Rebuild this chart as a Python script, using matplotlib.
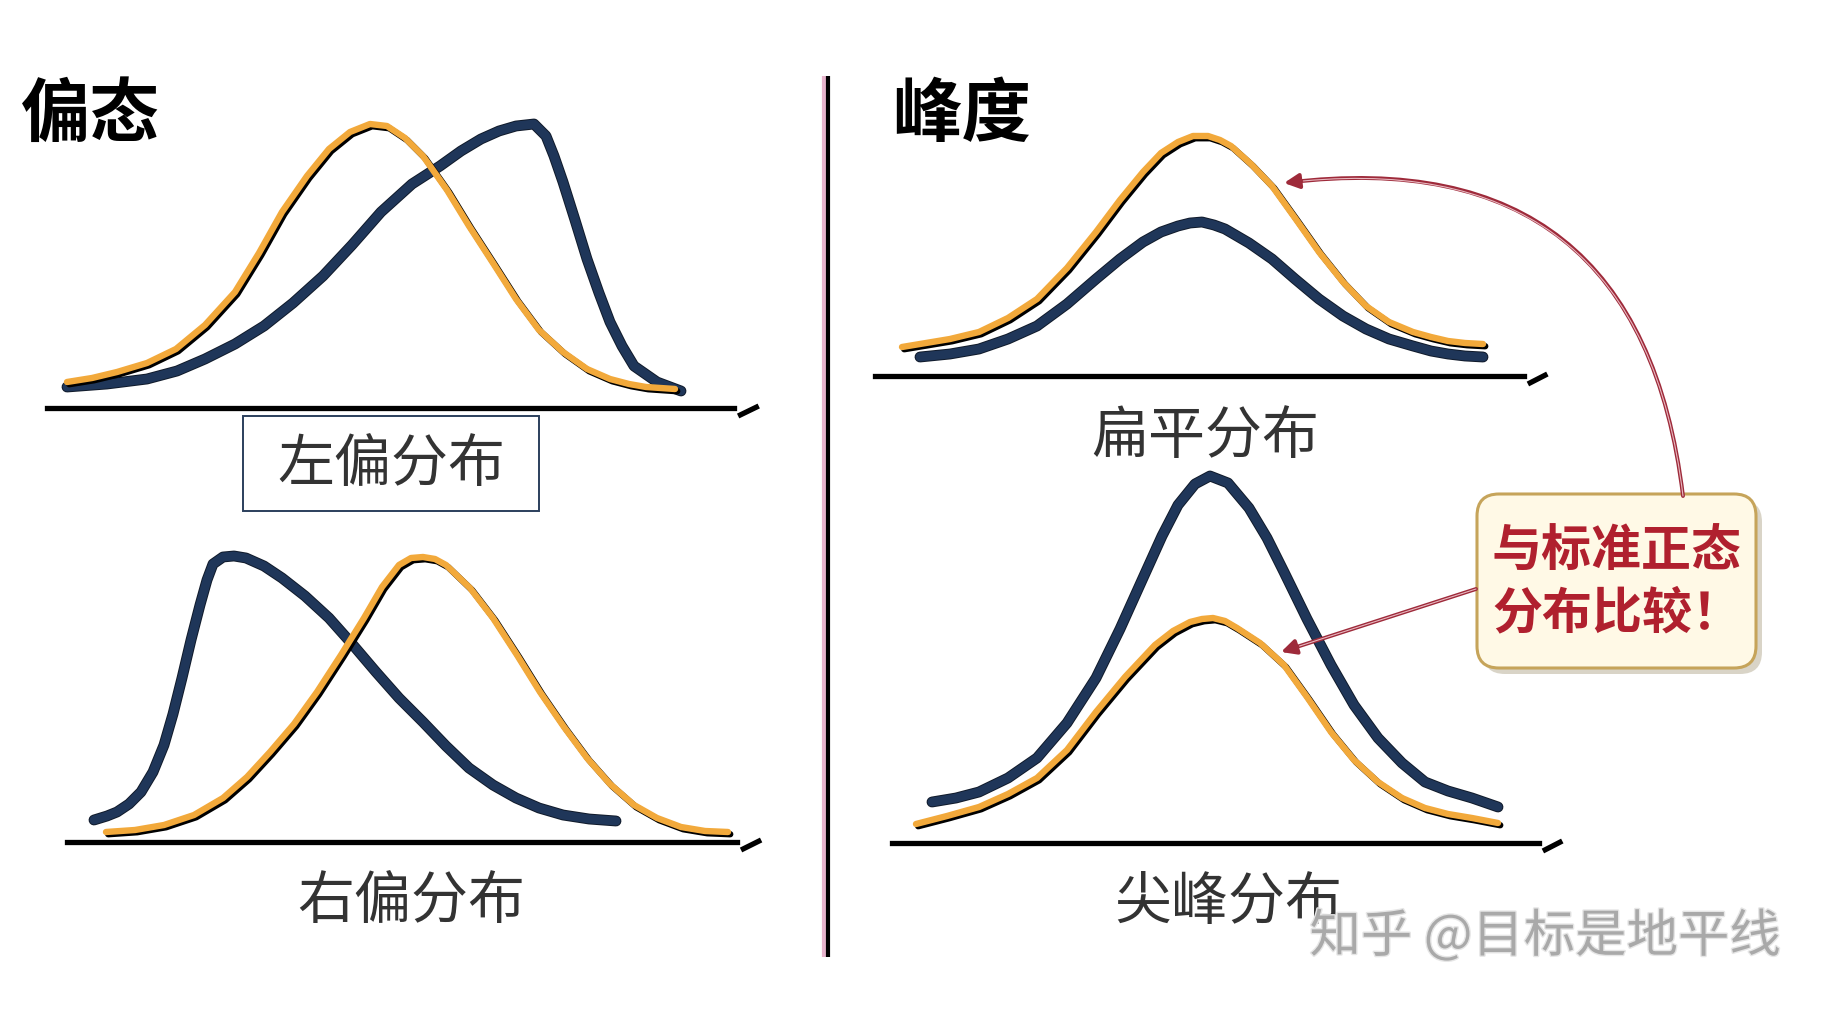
import matplotlib.pyplot as plt
import matplotlib.patheffects as pe
from matplotlib.patches import FancyBboxPatch

plt.rcParams['font.family'] = ['Noto Sans CJK SC', 'DejaVu Sans']

# 曲线数据 (从图上读取, 单位: 距坐标轴原点的像素)
# 左上: 左偏分布
tl_orange_x = [20, 45, 70, 100, 129, 158, 188, 212, 235, 260, 282, 303, 323, 340, 358, 376, 400, 422, 446, 469, 492, 516, 540, 563, 582, 599, 628]
tl_orange_y = [26, 30, 36, 45, 59, 83, 116, 155, 196, 232, 259, 276, 284, 282, 270, 252, 218, 182, 145, 109, 78, 56, 39, 29, 24, 21, 19]
tl_navy_x = [20, 60, 100, 130, 158, 188, 217, 246, 276, 305, 334, 365, 393, 414, 434, 452, 469, 487, 499, 507, 516, 528, 540, 552, 563, 575, 587, 610, 634]
tl_navy_y = [21, 24, 29, 37, 49, 64, 82, 105, 132, 163, 196, 224, 242, 257, 269, 277, 282, 284, 272, 252, 226, 188, 149, 115, 86, 62, 42, 26, 17]

# 左下: 右偏分布
bl_navy_x = [27, 40, 50, 62, 74, 86, 97, 106, 115, 124, 133, 140, 146, 156, 167, 179, 197, 215, 238, 262, 286, 309, 332, 356, 379, 402, 426, 449, 472, 496, 522, 549]
bl_navy_y = [22, 26, 30, 38, 50, 70, 97, 128, 164, 202, 237, 262, 278, 285, 286, 284, 276, 264, 246, 224, 197, 170, 144, 120, 96, 74, 57, 44, 34, 27, 23, 21]
bl_orange_x = [39, 68, 97, 127, 156, 180, 203, 227, 250, 274, 297, 315, 332, 344, 356, 368, 379, 403, 426, 450, 473, 497, 520, 543, 567, 590, 614, 638, 661]
bl_orange_y = [10, 12, 17, 27, 44, 65, 90, 118, 150, 187, 224, 255, 277, 284, 285, 283, 277, 254, 224, 187, 150, 115, 84, 58, 37, 24, 15, 11, 10]

# 右上: 扁平分布
tr_orange_x = [27, 45, 75, 104, 133, 162, 192, 221, 245, 268, 286, 303, 318, 333, 345, 356, 376, 397, 420, 444, 468, 491, 514, 538, 556, 573, 590, 608]
tr_orange_y = [29, 32, 37, 44, 58, 77, 108, 144, 176, 204, 223, 234, 240, 240, 236, 230, 212, 190, 158, 124, 94, 70, 54, 44, 39, 35, 33, 32]
tr_navy_x = [45, 75, 104, 133, 162, 192, 221, 245, 268, 286, 303, 315, 327, 339, 350, 374, 397, 420, 444, 468, 491, 514, 538, 556, 573, 590, 608]
tr_navy_y = [19, 22, 27, 37, 50, 72, 97, 117, 134, 144, 150, 153, 154, 151, 147, 133, 117, 97, 77, 60, 47, 37, 30, 25, 22, 20, 19]

# 右下: 尖峰分布
br_navy_x = [40, 64, 87, 116, 145, 175, 204, 228, 251, 270, 286, 303, 318, 336, 357, 375, 392, 415, 439, 462, 486, 510, 533, 556, 580, 606]
br_navy_y = [41, 45, 51, 65, 85, 120, 165, 214, 265, 307, 338, 359, 367, 360, 335, 305, 271, 224, 178, 138, 105, 80, 61, 52, 45, 36]
br_orange_x = [24, 55, 87, 116, 145, 175, 204, 233, 263, 281, 298, 310, 321, 333, 345, 368, 392, 415, 439, 462, 486, 510, 533, 556, 580, 606]
br_orange_y = [19, 27, 36, 49, 65, 93, 131, 166, 198, 212, 221, 224, 225, 222, 215, 200, 178, 146, 111, 83, 61, 45, 35, 29, 25, 20]

titles = ['偏态', '峰度']
labels = ['左偏分布', '右偏分布', '扁平分布', '尖峰分布']
callout = '与标准正态\n分布比较！'
watermark = '知乎 @目标是地平线'

W, H = 1840, 1012
ORANGE = '#F2A93B'
NAVY = '#1F3659'
RED = '#B0202E'

fig = plt.figure(figsize=(W / 100, H / 100), dpi=100)
fig.patch.set_facecolor('white')

# 覆盖层: 标题、文字、箭头、分隔线
ov = fig.add_axes([0, 0, 1, 1])
ov.set_xlim(0, W)
ov.set_ylim(H, 0)
ov.axis('off')
ov.set_zorder(5)
ov.patch.set_alpha(0)


def make_panel(x0, y0, length, stub):
    ax = fig.add_axes([x0 / W, 1 - y0 / H, length / W, 400 / H])
    ax.set_xlim(0, length)
    ax.set_ylim(0, 400)
    ax.patch.set_alpha(0)
    for s in ['top', 'right', 'left']:
        ax.spines[s].set_visible(False)
    ax.spines['bottom'].set_linewidth(3.8)
    ax.spines['bottom'].set_color('black')
    ax.set_xticks([])
    ax.set_yticks([])
    # 轴末端的小斜线
    ax.plot(stub[0], stub[1], transform=ax.transAxes, color='black', lw=3.8,
            solid_capstyle='butt', clip_on=False)
    return ax


def draw_orange(ax, x, y):
    ax.plot(x, y, color=ORANGE, lw=4.6, solid_capstyle='round', solid_joinstyle='round',
            clip_on=False, zorder=3,
            path_effects=[pe.SimpleLineShadow(offset=(1.6, -1.6), shadow_color='black', alpha=1.0),
                          pe.Normal()])


def draw_navy(ax, x, y):
    ax.plot(x, y, color=NAVY, lw=6.4, solid_capstyle='round', solid_joinstyle='round',
            clip_on=False, zorder=2,
            path_effects=[pe.Stroke(linewidth=7.8, foreground='#101a2a'), pe.Normal()])


stub_tl = ([1.006, 1.036], [-0.02, 0.005])
ax_tl = make_panel(47, 409, 687, stub_tl)
draw_orange(ax_tl, tl_orange_x, tl_orange_y)
draw_navy(ax_tl, tl_navy_x, tl_navy_y)

ax_bl = make_panel(67, 843, 670, stub_tl)
draw_navy(ax_bl, bl_navy_x, bl_navy_y)
draw_orange(ax_bl, bl_orange_x, bl_orange_y)

ax_tr = make_panel(875, 377, 649, stub_tl)
draw_navy(ax_tr, tr_navy_x, tr_navy_y)
draw_orange(ax_tr, tr_orange_x, tr_orange_y)

ax_br = make_panel(892, 844, 647, stub_tl)
draw_orange(ax_br, br_orange_x, br_orange_y)
draw_navy(ax_br, br_navy_x, br_navy_y)

# 标题
ov.text(21, 116, titles[0], fontsize=50, fontweight='bold', color='black', va='center', ha='left')
ov.text(892, 116, titles[1], fontsize=50, fontweight='bold', color='black', va='center', ha='left')

# 分布名称
lab_style = dict(fontsize=41, fontweight='light', color='#333333', ha='center', va='center')
ov.text(391, 465, labels[0], **lab_style)
ov.text(411, 902, labels[1], **lab_style)
ov.text(1205, 437, labels[2], **lab_style)
ov.text(1228, 903, labels[3], **lab_style)

# 左偏分布的方框
ov.add_patch(plt.Rectangle((243, 417), 296, 95, fill=False, edgecolor='#2b3f5c', lw=1.4))

# 中间分隔线
ov.plot([824, 824], [77, 958], color='#e7b3cc', lw=3, solid_capstyle='butt')
ov.plot([828, 828], [77, 958], color='black', lw=3, solid_capstyle='butt')

# 提示框
ov.add_patch(FancyBboxPatch((1483, 501), 279, 174, boxstyle='round,pad=0,rounding_size=22',
                            facecolor='#c9c2b0', edgecolor='none', alpha=0.7))
ov.add_patch(FancyBboxPatch((1477, 495), 279, 174, boxstyle='round,pad=0,rounding_size=22',
                            facecolor='#FFF9E6', edgecolor='#C6A45A', lw=2.2))
ov.text(1617, 583, callout, fontsize=36, fontweight='bold', color=RED,
        ha='center', va='center', linespacing=1.25)

# 箭头 (双线效果)
arrow_kw = dict(arrowstyle='-|>', color='#9E2A3A', lw=2.8, mutation_scale=22,
                shrinkA=0, shrinkB=0)
for rad, xy, xyt in [(0.5, (1284, 184), (1683, 497)), (0, (1281, 653), (1476, 590))]:
    a = ov.annotate('', xy=xy, xytext=xyt,
                    arrowprops=dict(connectionstyle='arc3,rad=%s' % rad, **arrow_kw))
    ov.annotate('', xy=xy, xytext=xyt,
                arrowprops=dict(arrowstyle='-', color='#e8b8c0', lw=0.8, shrinkA=0, shrinkB=14,
                                connectionstyle='arc3,rad=%s' % rad))

# 水印
ov.text(1545, 938, watermark, fontsize=37, color='#a9a9a9', ha='center', va='center',
        path_effects=[pe.withStroke(linewidth=2, foreground='#e6e6e6')])

fig.savefig('out.png', dpi=100, facecolor='white')
